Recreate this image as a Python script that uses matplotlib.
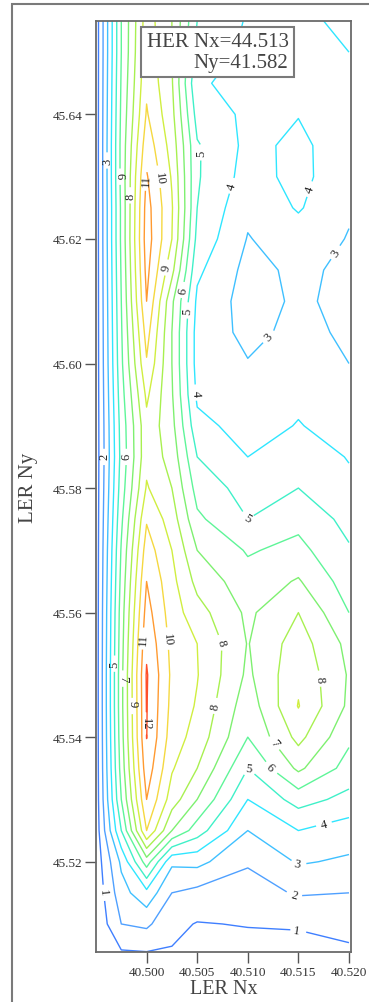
import numpy as np
import matplotlib
matplotlib.use("Agg")
import matplotlib.pyplot as plt
import matplotlib.patches as pat

plt.rcParams['font.family'] = ['Liberation Serif', 'DejaVu Serif']

# LER tune grid (x columns, y rows from top to bottom)
nx = [40.495, 40.4975, 40.500, 40.5025, 40.505, 40.510, 40.515, 40.520]
ny = [45.655, 45.650, 45.645, 45.640, 45.635, 45.630, 45.625, 45.620,
      45.615, 45.610, 45.605, 45.600, 45.595, 45.590, 45.585, 45.580,
      45.575, 45.570, 45.565, 45.560, 45.555, 45.550, 45.545, 45.540,
      45.535, 45.530, 45.525, 45.520, 45.515, 45.510, 45.505]

# luminosity values, one list per Nx column (top -> bottom)
lum_40495 = [0.45, 0.45, 0.45, 0.45, 0.45, 0.45, 0.45, 0.45, 0.45, 0.45,
             0.45, 0.45, 0.45, 0.45, 0.45, 0.45, 0.45, 0.45, 0.45, 0.45,
             0.45, 0.45, 0.45, 0.45, 0.45, 0.45, 0.45, 0.40, 0.30, 0.20, 0.15]
lum_40498 = [6.0, 6.0, 6.1, 6.2, 6.3, 6.3, 6.2, 6.2, 6.1, 6.0,
             5.9, 5.8, 5.6, 5.4, 5.3, 5.5, 5.8, 6.1, 6.3, 6.5,
             6.6, 6.7, 6.7, 6.6, 6.4, 6.0, 5.0, 3.2, 2.6, 2.0, 0.8]
lum_40500 = [9.5, 9.6, 9.8, 10.1, 10.6, 11.1, 11.4, 11.5, 11.3, 11.0,
             10.4, 9.9, 9.2, 8.7, 8.7, 9.1, 9.9, 10.5, 11.0, 11.4,
             11.8, 12.1, 12.05, 12.02, 11.6, 11.0, 10.0, 6.5, 3.7, 2.2, 0.85]
lum_40503 = [8.0, 8.0, 8.1, 8.3, 8.6, 8.9, 9.1, 9.0, 8.3, 7.2,
             7.0, 7.0, 7.1, 7.3, 7.6, 8.0, 8.5, 9.0, 9.3, 9.5,
             9.7, 9.8, 9.7, 9.5, 9.1, 8.5, 7.0, 3.2, 2.0, 1.25, 0.9]
lum_40505 = [5.0, 4.6, 4.1, 4.6, 5.1, 5.1, 5.0, 4.7, 4.2, 3.8,
             3.6, 3.6, 3.8, 4.3, 5.0, 5.6, 6.2, 7.0, 7.7, 8.4,
             9.0, 9.05, 8.9, 8.6, 8.0, 7.0, 5.5, 3.3, 1.7, 0.95, 0.7]
lum_40510 = [3.9, 3.8, 3.75, 3.8, 3.75, 3.6, 3.2, 2.95, 2.7, 2.6,
             2.75, 3.05, 3.3, 3.6, 4.0, 4.6, 5.0, 5.9, 6.4, 6.8,
             6.95, 6.8, 6.4, 6.0, 5.0, 4.0, 3.0, 2.1, 1.6, 1.05, 0.6]
lum_40515 = [3.7, 3.75, 3.8, 3.97, 4.2, 4.3, 4.1, 3.5, 3.2, 3.15,
             3.25, 3.5, 3.8, 4.05, 4.5, 5.0, 5.7, 6.3, 7.1, 8.0,
             8.5, 8.8, 9.05, 8.3, 7.2, 5.4, 4.0, 3.1, 2.1, 1.05, 0.8]
lum_40520 = [4.3, 4.0, 3.8, 3.6, 3.5, 3.3, 3.1, 2.95, 2.8, 2.75,
             2.85, 3.0, 3.3, 3.6, 3.95, 4.2, 4.7, 5.1, 5.5, 6.0,
             6.7, 6.9, 6.8, 6.2, 5.6, 4.7, 3.5, 2.85, 2.0, 1.15, 0.9]

levels = [1, 2, 3, 4, 5, 6, 7, 8, 9, 10, 11, 12]
level_colors = ['#3f7fff', '#4fa0ff', '#3fc0ff', '#2fe6ff', '#3ff0c8', '#5ef598',
                '#7ef070', '#a8f050', '#d0ee40', '#f5d840', '#ff9a30', '#ff4f2a']

xticks = [40.500, 40.505, 40.510, 40.515, 40.520]
yticks = [45.52, 45.54, 45.56, 45.58, 45.60, 45.62, 45.64]
her_text = 'HER Nx=44.513\nNy=41.582'

# where the contour labels sit (data coords, nearest line gets the label)
label_spots = [
    (40.4960, 45.6326), (40.4975, 45.6302), (40.4984, 45.6270),
    (40.5000, 45.6295), (40.5017, 45.6299), (40.5020, 45.6154),
    (40.5036, 45.6118), (40.5043, 45.6085), (40.5045, 45.5953),
    (40.5056, 45.6339), (40.5089, 45.6283), (40.5163, 45.6279),
    (40.5115, 45.6052), (40.5187, 45.6178), (40.4957, 45.5851),
    (40.4979, 45.5851), (40.5099, 45.5751), (40.5074, 45.5552),
    (40.5065, 45.5451), (40.5000, 45.5558), (40.5019, 45.5558),
    (40.4968, 45.5518), (40.4977, 45.5494), (40.4987, 45.5454),
    (40.5000, 45.5422), (40.5171, 45.5494), (40.5129, 45.5394),
    (40.5102, 45.5352), (40.5122, 45.5352), (40.5177, 45.5249),
    (40.5148, 45.5195), (40.5148, 45.5159), (40.5148, 45.5092),
    (40.4954, 45.5151),
]

Z = np.column_stack([lum_40495, lum_40498, lum_40500, lum_40503,
                     lum_40505, lum_40510, lum_40515, lum_40520])[::-1]
Y = np.array(ny)[::-1]
X = np.array(nx)

W, H = 369, 1003
fig = plt.figure(figsize=(W / 100, H / 100), dpi=100)
fig.patches.append(pat.Rectangle((12 / W, -0.01), 1.1, 1 - 5 / H + 0.01,
                                 transform=fig.transFigure, fill=False,
                                 edgecolor='#7a7a7a', lw=1.5))

ax = fig.add_axes([96 / W, 1 - 953 / H, (351 - 96) / W, (953 - 22) / H])
cs = ax.contour(X, Y, Z, levels=levels, colors=level_colors, linewidths=1.0)
ax.clabel(cs, inline=True, fontsize=9, fmt='%d', colors='#222222',
          manual=label_spots)

ax.set_xlim(40.495, 40.5202)
ax.set_ylim(45.5055, 45.655)
ax.set_xticks(xticks)
ax.set_xticklabels(['%.3f' % v for v in xticks])
ax.set_yticks(yticks)
ax.set_yticklabels(['%.2f' % v for v in yticks])
ax.tick_params(direction='out', length=8, width=1, colors='#555555',
               labelcolor='#333333', labelsize=9.5, pad=2)
for s in ax.spines.values():
    s.set_color('#6a6a6a')
    s.set_linewidth(1.3)

ax.set_xlabel('LER Nx', fontsize=14.5, color='#444444', labelpad=1)
ax.set_ylabel('LER Ny', fontsize=15, color='#444444', labelpad=10)

ax.text(0.755, 0.988, her_text, transform=ax.transAxes, ha='right', va='top',
        fontsize=15, color='#444444', linespacing=1.15,
        bbox=dict(boxstyle='square,pad=0.25', fc='white', ec='#7a7a7a', lw=1.5))

fig.savefig('out.png', dpi=100)
